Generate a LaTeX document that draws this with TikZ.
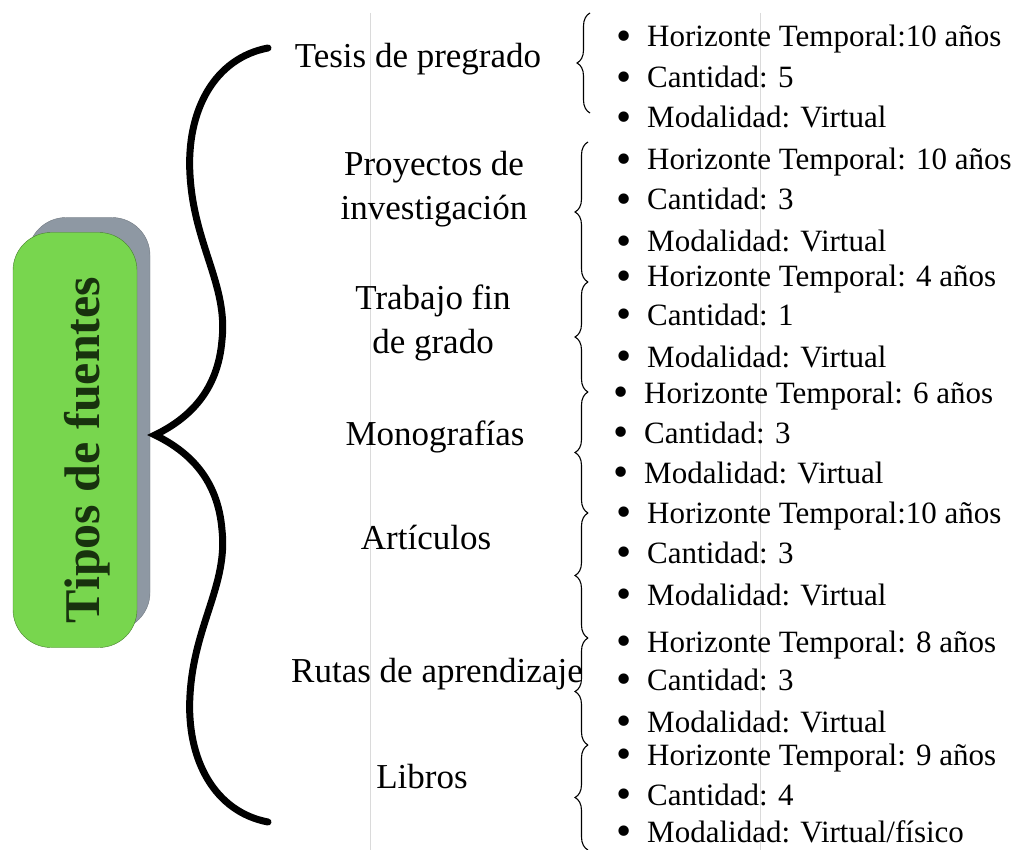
\documentclass[tikz,border=0pt]{standalone}
\usepackage{fontspec}
\setmainfont{Liberation Serif}
\usetikzlibrary{decorations.pathreplacing}
\definecolor{cajaverde}{HTML}{78D64E}
\definecolor{cajasombra}{HTML}{8E98A3}
\definecolor{tituloverde}{HTML}{18320E}
\definecolor{guiagris}{HTML}{DADADA}
\tikzset{
  categoria/.style={font=\fontsize{35}{44}\selectfont, align=center, inner sep=0pt, anchor=base},
  dato/.style={font=\fontsize{31}{36}\selectfont, inner sep=0pt, anchor=base west},
  llave/.style={decorate, decoration={brace, amplitude=13pt}, line width=1.1pt},
}
\newcommand{\punto}{\makebox[31pt][l]{\raisebox{-3.6pt}[0pt][0pt]{\scalebox{1.4}{\textbullet}}}}

\begin{document}
\begin{tikzpicture}[x=1pt, y=-1pt]
      \useasboundingbox (0,0) rectangle (1017,850);
      % lineas guia
      \draw[guiagris, line width=1pt] (370,13) -- (370,850);
      \draw[guiagris, line width=1pt] (760,13) -- (760,850);
      % caja del titulo
      \node[rounded corners=38pt, fill=cajasombra, draw=cajasombra!80!black, minimum width=122pt, minimum height=413pt] (sombra) at (89,424) {};
      \node[rounded corners=38pt, fill=cajaverde, draw=cajaverde!60!black, minimum width=124pt, minimum height=415pt] (tipos) at (75,440) {};
      \node[rotate=90, anchor=base, inner sep=0pt, text=tituloverde, font=\fontsize{50}{60}\selectfont\bfseries] (titulo) at (99,450) {Tipos de fuentes};
      % llave grande
      \draw[line width=7pt, line cap=round] (268,48) .. controls (215,58) and (186,110) .. (190,175) .. controls (194,245) and (228,285) .. (222,340) .. controls (218,390) and (190,418) .. (155,435) .. controls (190,452) and (218,480) .. (222,530) .. controls (228,585) and (194,625) .. (190,695) .. controls (186,760) and (215,812) .. (268,822);
      % categorias
      \node[categoria] (tesis) at (418,68) {Tesis de pregrado};
      \node[categoria] (proyectos) at (434,220) {Proyectos de\\investigación};
      \node[categoria] (trabajo) at (433,353) {Trabajo fin\\de grado};
      \node[categoria] (monografias) at (435,445) {Monografías};
      \node[categoria] (articulos) at (426,549) {Artículos};
      \node[categoria] (rutas) at (437,682) {Rutas de aprendizaje};
      \node[categoria] (libros) at (422,788) {Libros};
      % llaves pequenas
      \coordinate (k0) at (590,13);
      \coordinate (k1) at (590,113);
      \coordinate (k2) at (588,142);
      \coordinate (k3) at (588,282);
      \coordinate (k4) at (588,392);
      \coordinate (k5) at (588,513);
      \coordinate (k6) at (588,638);
      \coordinate (k7) at (588,745);
      \coordinate (k8) at (588,850);
      \draw[llave] (k1) -- (k0);
      \draw[llave] (k3) -- (k2);
      \draw[llave] (k4) -- (k3);
      \draw[llave] (k5) -- (k4);
      \draw[llave] (k6) -- (k5);
      \draw[llave] (k7) -- (k6);
      \draw[llave] (k8) -- (k7);
      % datos
      \node[dato] (tesis1) at (616,47) {\punto Horizonte Temporal:10 años};
      \node[dato] (tesis2) at (616,88) {\punto Cantidad: 5};
      \node[dato] (tesis3) at (616,128) {\punto Modalidad: Virtual};
      \node[dato] (proyectos1) at (616,170) {\punto Horizonte Temporal: 10 años};
      \node[dato] (proyectos2) at (616,210) {\punto Cantidad: 3};
      \node[dato] (proyectos3) at (616,252) {\punto Modalidad: Virtual};
      \node[dato] (trabajo1) at (616,287) {\punto Horizonte Temporal: 4 años};
      \node[dato] (trabajo2) at (616,325) {\punto Cantidad: 1};
      \node[dato] (trabajo3) at (616,367) {\punto Modalidad: Virtual};
      \node[dato] (monografias1) at (613,403) {\punto Horizonte Temporal: 6 años};
      \node[dato] (monografias2) at (613,443) {\punto Cantidad: 3};
      \node[dato] (monografias3) at (613,483) {\punto Modalidad: Virtual};
      \node[dato] (articulos1) at (616,523) {\punto Horizonte Temporal:10 años};
      \node[dato] (articulos2) at (616,563) {\punto Cantidad: 3};
      \node[dato] (articulos3) at (616,605) {\punto Modalidad: Virtual};
      \node[dato] (rutas1) at (616,652) {\punto Horizonte Temporal: 8 años};
      \node[dato] (rutas2) at (616,690) {\punto Cantidad: 3};
      \node[dato] (rutas3) at (616,732) {\punto Modalidad: Virtual};
      \node[dato] (libros1) at (616,765) {\punto Horizonte Temporal: 9 años};
      \node[dato] (libros2) at (616,805) {\punto Cantidad: 4};
      \node[dato] (libros3) at (616,842) {\punto Modalidad: Virtual/físico};
\end{tikzpicture}
\end{document}
